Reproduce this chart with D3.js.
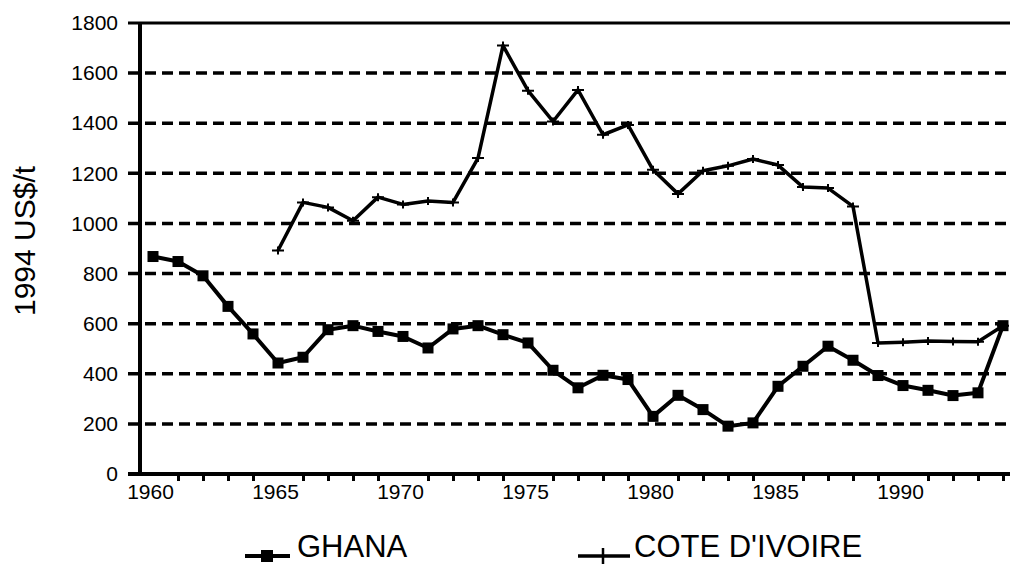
<!DOCTYPE html>
<html>
<head>
<meta charset="utf-8">
<script src="https://cdn.jsdelivr.net/npm/d3@7"></script>
<style>
html,body{margin:0;padding:0;background:#fff;}
svg{display:block;font-family:Arial,"Liberation Sans",sans-serif;}
</style>
</head>
<body>
<svg id="chart" width="1010" height="564"></svg>
<script>
const years = d3.range(1960, 1995);
const ghana = [868,848,791,669,559,443,466,576,592,569,549,503,579,592,556,523,414,344,394,377,230,314,257,191,204,350,430,510,454,393,353,334,313,324,592];
const coteYears = d3.range(1965, 1995);
const coteDivoire = [892,1084,1064,1011,1105,1076,1090,1084,1261,1710,1530,1407,1533,1354,1393,1214,1118,1210,1230,1257,1233,1145,1141,1068,523,526,531,529,528,592];
const yTicks = [0,200,400,600,800,1000,1200,1400,1600,1800];
const xLabelYears = [1960,1965,1970,1975,1980,1985,1990];
const seriesNames = ["GHANA","COTE D'IVOIRE"];
const yTitle = "1994 US$/t";

const svg = d3.select("#chart");
const x = d3.scaleLinear().domain([1960,1994]).range([153,1003]);
const y = d3.scaleLinear().domain([0,1800]).range([474,23]);
const axisX = 140, rightX = 1010;

// gridlines (dashed)
svg.append("g").selectAll("line").data(yTicks.filter(v => v>0 && v<1800)).join("line")
  .attr("x1",128).attr("x2",rightX).attr("y1",d=>y(d)).attr("y2",d=>y(d))
  .attr("stroke","#000").attr("stroke-width",3.5).attr("stroke-dasharray","11 6");

// top line
svg.append("line").attr("x1",128).attr("x2",rightX).attr("y1",y(1800)).attr("y2",y(1800))
  .attr("stroke","#000").attr("stroke-width",3);

// y axis
const gy = svg.append("g").attr("transform",`translate(${axisX},0)`)
  .call(d3.axisLeft(y).tickValues(yTicks).tickSize(0).tickPadding(22).tickFormat(d3.format("d")));
gy.select(".domain").remove();
gy.selectAll("text").style("font-size","21px").style("font-family","Arial, 'Liberation Sans', sans-serif").attr("fill","#000");
svg.append("line").attr("x1",axisX).attr("x2",axisX).attr("y1",y(1800)-1).attr("y2",y(0)+2)
  .attr("stroke","#000").attr("stroke-width",4);

// x axis
const gx = svg.append("g").attr("transform",`translate(0,${y(0)})`)
  .call(d3.axisBottom(x).tickValues(years).tickSize(7).tickPadding(3)
    .tickFormat(d => xLabelYears.includes(d) ? String(d) : ""));
gx.select(".domain").remove();
gx.selectAll(".tick line").attr("stroke","#000").attr("stroke-width",3);
gx.selectAll("text").style("font-size","21px").style("font-family","Arial, 'Liberation Sans', sans-serif")
  .attr("fill","#000").attr("dx",-3);
gx.selectAll(".tick").filter(d => xLabelYears.includes(d)).select("line").remove();
svg.append("line").attr("x1",128).attr("x2",rightX).attr("y1",y(0)).attr("y2",y(0))
  .attr("stroke","#000").attr("stroke-width",4);

// y title
svg.append("text").attr("transform","translate(35,241) rotate(-90)")
  .attr("text-anchor","middle").style("font-size","30px").attr("fill","#000").text(yTitle);

// lines
const gData = years.map((yr,i)=>({x:yr,v:ghana[i]}));
const cData = coteYears.map((yr,i)=>({x:yr,v:coteDivoire[i]}));
const line = d3.line().x(d=>x(d.x)).y(d=>y(d.v));

svg.append("path").datum(cData).attr("d",line).attr("fill","none")
  .attr("stroke","#000").attr("stroke-width",3.5).attr("stroke-linejoin","round");
svg.append("g").selectAll("path").data(cData).join("path")
  .attr("d",d=>`M${x(d.x)-6},${y(d.v)}h12M${x(d.x)},${y(d.v)-4}v8`)
  .attr("stroke","#000").attr("stroke-width",2);

svg.append("path").datum(gData).attr("d",line).attr("fill","none")
  .attr("stroke","#000").attr("stroke-width",4).attr("stroke-linejoin","round");
svg.append("g").selectAll("rect").data(gData).join("rect")
  .attr("x",d=>x(d.x)-5.5).attr("y",d=>y(d.v)-5.5).attr("width",11).attr("height",11).attr("fill","#000");

// legend
const lg = svg.append("g");
const ly = 556;
lg.append("line").attr("x1",245).attr("x2",290).attr("y1",ly).attr("y2",ly).attr("stroke","#000").attr("stroke-width",4);
lg.append("rect").attr("x",261).attr("y",ly-6).attr("width",12).attr("height",12).attr("fill","#000");
lg.append("text").attr("x",297).attr("y",ly+1).style("font-size","31px").attr("fill","#000").text(seriesNames[0]);
lg.append("line").attr("x1",578).attr("x2",630).attr("y1",ly).attr("y2",ly).attr("stroke","#000").attr("stroke-width",3.5);
lg.append("path").attr("d",`M603,${ly-8}v16`).attr("stroke","#000").attr("stroke-width",2.5);
lg.append("text").attr("x",634).attr("y",ly+1).style("font-size","31px").attr("fill","#000").text(seriesNames[1]);
</script>
</body>
</html>
